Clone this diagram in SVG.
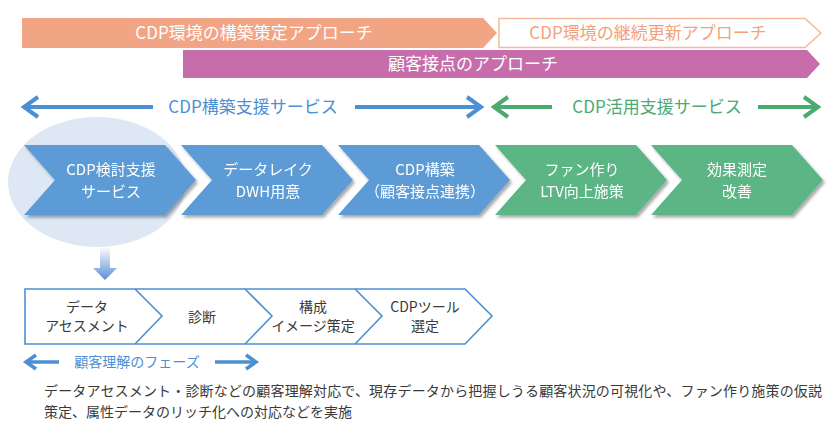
<svg xmlns="http://www.w3.org/2000/svg" width="840" height="442" viewBox="0 0 840 442">
<defs>
<style>
text{font-family:"Noto Sans CJK JP","Noto Sans",sans-serif;}
.w{fill:#fff;font-size:15px;text-anchor:middle;}
.dk{fill:#3a3a3a;font-size:14px;text-anchor:middle;}
.blue{fill:#5b9bd5;}
.green{fill:#5cb585;}
.ol{fill:none;stroke:#4d8fd3;stroke-width:1.6;stroke-linejoin:miter;}
</style>
<filter id="sh" x="-10%" y="-10%" width="130%" height="140%">
<feDropShadow dx="2" dy="2.5" stdDeviation="1.5" flood-color="#000" flood-opacity="0.35"/>
</filter>
<linearGradient id="dg" x1="0" y1="0" x2="0" y2="1">
<stop offset="0" stop-color="#5b8fd6" stop-opacity="0.05"/>
<stop offset="1" stop-color="#5b8fd6"/>
</linearGradient>
</defs>
<rect width="840" height="442" fill="#fff"/>

<g id="bar-build">
<polygon points="22,18 483,18 497,33 483,48 22,48" fill="#f2a584"/>
<text x="254" y="39" fill="#fff" font-size="17" text-anchor="middle">CDP環境の構築策定アプローチ</text>
</g>
<g id="bar-update">
<polygon points="499,18.5 805,18.5 821,33 805,47.5 499,47.5" fill="#fff" stroke="#f6b89b" stroke-width="1.5"/>
<text x="648" y="39" fill="#f3a17d" font-size="17" text-anchor="middle">CDP環境の継続更新アプローチ</text>
</g>
<g id="bar-touch">
<polygon points="183,50 807,50 820,64 807,78 183,78" fill="#c76dac"/>
<text x="473" y="70" fill="#fff" font-size="17" text-anchor="middle">顧客接点のアプローチ</text>
</g>

<g id="connectors">
<g stroke="#4d8fd3" stroke-width="4" fill="none" stroke-linecap="butt">
<line x1="24" y1="107" x2="153" y2="107"/>
<polyline points="38,97 24,107 38,117"/>
<line x1="355" y1="107" x2="481" y2="107"/>
<polyline points="467,97 481,107 467,117"/>
</g>
<g stroke="#4aaa72" stroke-width="4" fill="none">
<line x1="494" y1="107" x2="552" y2="107"/>
<polyline points="508,97 494,107 508,117"/>
<line x1="758" y1="107" x2="818" y2="107"/>
<polyline points="804,97 818,107 804,117"/>
</g>
<g stroke="#4d8fd3" stroke-width="3.5" fill="none">
<line x1="26" y1="362" x2="59" y2="362"/>
<polyline points="36,355 26,362 36,369"/>
<line x1="215" y1="362" x2="256" y2="362"/>
<polyline points="246,355 256,362 246,369"/>
</g>
<polygon points="100,248 110,248 110,268 117,268 105,280 93,268 100,268" fill="url(#dg)"/>
</g>
<text x="253" y="113" fill="#4d8fd3" font-size="17" text-anchor="middle">CDP構築支援サービス</text>
<text x="657" y="113" fill="#4aaa72" font-size="17" text-anchor="middle">CDP活用支援サービス</text>

<ellipse cx="97" cy="182" rx="89" ry="65" fill="#dde8f4"/>

<g id="step1" filter="url(#sh)">
<polygon points="24,145 165,145 196,180 165,215 24,215 55,180" class="blue"/>
<text class="w" x="111" y="175">CDP検討支援</text>
<text class="w" x="111" y="197">サービス</text>
</g>
<g id="step2" filter="url(#sh)">
<polygon points="181,145 322,145 353,180 322,215 181,215 212,180" class="blue"/>
<text class="w" x="268" y="175">データレイク</text>
<text class="w" x="268" y="197">DWH用意</text>
</g>
<g id="step3" filter="url(#sh)">
<polygon points="338,145 479,145 510,180 479,215 338,215 369,180" class="blue"/>
<text class="w" x="425" y="175">CDP構築</text>
<text class="w" x="425" y="197">（顧客接点連携）</text>
</g>
<g id="step4" filter="url(#sh)">
<polygon points="495,145 636,145 667,180 636,215 495,215 526,180" class="green"/>
<text class="w" x="582" y="175">ファン作り</text>
<text class="w" x="582" y="197">LTV向上施策</text>
</g>
<g id="step5" filter="url(#sh)">
<polygon points="651,145 792,145 823,180 792,215 651,215 682,180" class="green"/>
<text class="w" x="737" y="175">効果測定</text>
<text class="w" x="737" y="197">改善</text>
</g>

<g id="phase-outline">
<polygon points="25,289 465,289 492,316 465,344 25,344" class="ol"/>
<polyline points="135,289 162,316 135,344" class="ol"/>
<polyline points="245,289 272,316 245,344" class="ol"/>
<polyline points="355,289 382,316 355,344" class="ol"/>
</g>
<g id="phase1"><text class="dk" x="87" y="312">データ</text><text class="dk" x="87" y="331">アセスメント</text></g>
<g id="phase2"><text class="dk" x="202" y="322">診断</text></g>
<g id="phase3"><text class="dk" x="313" y="312">構成</text><text class="dk" x="313" y="331">イメージ策定</text></g>
<g id="phase4"><text class="dk" x="425" y="312">CDPツール</text><text class="dk" x="425" y="331">選定</text></g>

<text x="137" y="367" fill="#4d8fd3" font-size="14" text-anchor="middle">顧客理解のフェーズ</text>
<text x="44" y="396" fill="#3a3a3a" font-size="14" textLength="778">データアセスメント・診断などの顧客理解対応で、現存データから把握しうる顧客状況の可視化や、ファン作り施策の仮説</text>
<text x="44" y="417" fill="#3a3a3a" font-size="14">策定、属性データのリッチ化への対応などを実施</text>
</svg>
